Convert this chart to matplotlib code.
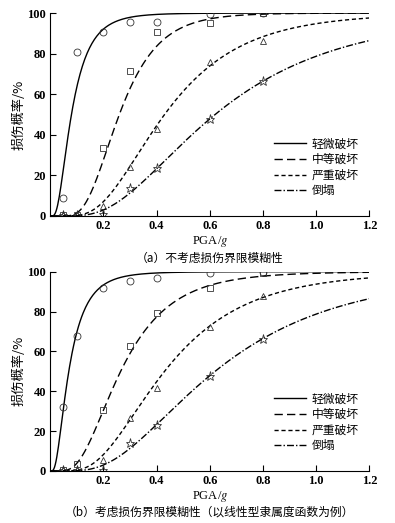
import math
import numpy as np
import matplotlib.pyplot as plt

plt.rcParams['mathtext.fontset'] = 'stix'

# damage states
states = ['轻微破坏', '中等破坏', '严重破坏', '倒塌']

# PGA levels of the observed points
pga = [0.05, 0.1, 0.2, 0.3, 0.4, 0.6, 0.8]

# (a) observed damage probability (%)
obs_a = [
    [9, 81, 90.5, 95.5, 95.5, 99.5, 100],
    [0.5, 0.5, 33.5, 71.5, 90.5, 95, 100],
    [0.5, 0.5, 5, 24, 43, 76, 86],
    [0.5, 0.5, 1, 14, 23.5, 48, 66.5],
]
# (b) observed damage probability (%)
obs_b = [
    [32, 67.5, 92, 95.5, 97, 99.5, 100],
    [0.5, 3.5, 30.5, 62.5, 79.5, 92, 99.5],
    [0.5, 0.5, 5.5, 26.5, 41.5, 72, 88],
    [0.5, 0.5, 0.5, 14, 23, 47.5, 66],
]

# fitted lognormal fragility parameters (median, beta)
median_a = [0.08, 0.26, 0.43, 0.62]
beta_a = [0.65, 0.44, 0.52, 0.6]
median_b = [0.07, 0.265, 0.43, 0.62]
beta_b = [0.7, 0.55, 0.55, 0.6]

styles = ['-', (0, (6, 3)), (0, (3, 2)), (0, (5, 1.5, 1, 1.5))]
markers = ['o', 's', '^', '*']
msizes = [5, 4.5, 5, 6.5]

xs = np.linspace(0.001, 1.2, 400)
erf = np.vectorize(math.erf)


def fragility(x, m, b):
    return 50 * (1 + erf(np.log(x / m) / (b * math.sqrt(2))))


fig = plt.figure(figsize=(3.95, 5.23), dpi=100)
ax_a = fig.add_axes([0.127, 0.587, 0.808, 0.388])
ax_b = fig.add_axes([0.127, 0.0995, 0.808, 0.381])

captions = ['（a）不考虑损伤界限模糊性', '（b）考虑损伤界限模糊性（以线性型隶属度函数为例）']

for ax, obs, med, bet, cap in [(ax_a, obs_a, median_a, beta_a, captions[0]),
                               (ax_b, obs_b, median_b, beta_b, captions[1])]:
    for i in range(4):
        ax.plot(xs, fragility(xs, med[i], bet[i]), color='black', lw=1.0,
                linestyle=styles[i], label=states[i])
        ax.plot(pga, obs[i], linestyle='none', marker=markers[i], ms=msizes[i],
                mfc='none', mec='#333333', mew=0.6)
    ax.set_xlim(0, 1.2)
    ax.set_ylim(0, 100)
    ax.spines['top'].set_visible(False)
    ax.spines['right'].set_visible(False)
    ax.spines['left'].set_linewidth(0.8)
    ax.spines['bottom'].set_linewidth(0.8)
    ax.set_xticks([0.2, 0.4, 0.6, 0.8, 1.0, 1.2])
    ax.set_xticklabels(['0.2', '0.4', '0.6', '0.8', '1.0', '1.2'])
    ax.set_yticks([0, 20, 40, 60, 80, 100])
    ax.tick_params(direction='in', length=4, width=0.8, pad=3)
    for lab in ax.get_xticklabels() + ax.get_yticklabels():
        lab.set_family('Liberation Serif')
        lab.set_fontweight('bold')
        lab.set_fontsize(9)
    ax.set_xlabel(r'PGA/$\mathit{g}$', family='Liberation Serif', fontsize=9, labelpad=1)
    ax.set_ylabel('损伤概率/%', family=['Noto Sans CJK SC', 'DejaVu Sans'], fontsize=9.5, labelpad=1)
    ax.text(0.5, -0.175, cap, transform=ax.transAxes, ha='center', va='top',
            family=['Noto Sans CJK SC', 'DejaVu Sans'], fontsize=8.5)
    ax.legend(loc='lower right', bbox_to_anchor=(1.0, 0.04), frameon=False,
              prop={'family': ['Noto Sans CJK SC', 'DejaVu Sans'], 'size': 8.5},
              handlelength=2.7, handletextpad=0.5, labelspacing=0.22)

fig.savefig('out.png', dpi=100)
